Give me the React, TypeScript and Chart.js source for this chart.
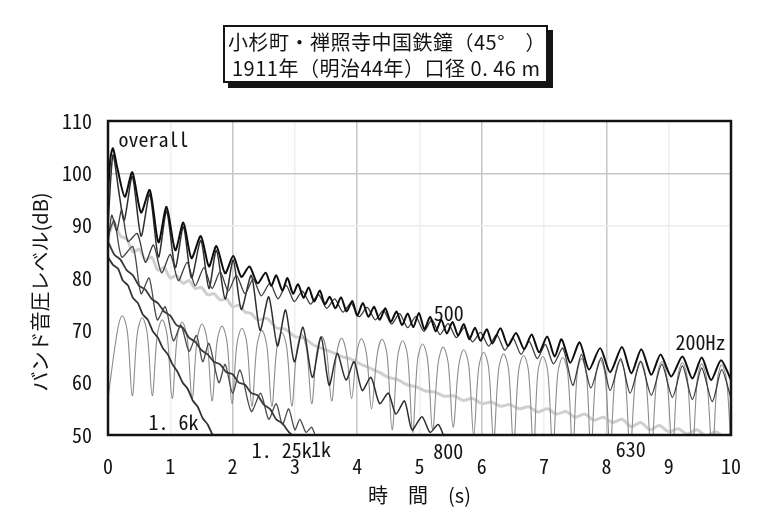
import React, { useEffect, useRef } from 'react';
import { Chart, registerables } from 'chart.js';

Chart.register(...registerables);

// ---------- data (time s, band level dB) ----------
const TITLE_LINE1 = '小杉町・禅照寺中国鉄鐘（45°　）';
const TITLE_LINE2 = '1911年（明治44年）口径 0. 46 m';
const X_TITLE = '時　間　(s)';
const Y_TITLE = 'バンド音圧レベル(dB)';

const X_MIN = 0;
const X_MAX = 10;
const Y_MIN = 50;
const Y_MAX = 110;

const OVERALL: [number, number][] = [
  [0.0, 96], [0.04, 103], [0.08, 104.8], [0.15, 101], [0.27, 95.5], [0.39, 100.2], [0.53, 92.5],
  [0.67, 96.8], [0.81, 86.8], [0.94, 93.6], [1.08, 85.3], [1.21, 90.6], [1.34, 83.8], [1.49, 88],
  [1.62, 82.2], [1.74, 86.1], [1.88, 80.9], [2.01, 84.2], [2.14, 80.2], [2.27, 82.2], [2.4, 79],
  [2.53, 81], [2.62, 78.5], [2.7, 80.5], [2.8, 77.6], [2.88, 80], [2.97, 77], [3.05, 78.8],
  [3.14, 76.2], [3.22, 78.2], [3.31, 75.5], [3.4, 77.6], [3.48, 75], [3.56, 76.4], [3.65, 74.2],
  [3.74, 76.3], [3.83, 73.6], [3.92, 75.6], [4.0, 72.8], [4.09, 75.2], [4.18, 72.6], [4.27, 74.5],
  [4.36, 72], [4.45, 74.2], [4.54, 71.6], [4.63, 73.6], [4.72, 71], [4.81, 73.2], [4.9, 70.6],
  [4.99, 73.3], [5.08, 70.2], [5.17, 72.6], [5.26, 69.8], [5.35, 72], [5.44, 69.4], [5.53, 71.6],
  [5.62, 69], [5.71, 71.2], [5.8, 68.3], [5.89, 70.5], [5.98, 68], [6.08, 70.2], [6.17, 67.5],
  [6.3, 70.4], [6.42, 67], [6.55, 69.5], [6.68, 66.4], [6.8, 69.2], [6.92, 65.8], [7.05, 68.8],
  [7.17, 65], [7.28, 68.3], [7.42, 63.8], [7.57, 67.7], [7.72, 62.5], [7.9, 66.6], [8.06, 62],
  [8.25, 66.8], [8.4, 61.8], [8.56, 66.4], [8.72, 61.5], [8.87, 65.4], [9.04, 61.2], [9.22, 65],
  [9.38, 60.8], [9.53, 64.8], [9.68, 60.5], [9.84, 64.3], [10.0, 60.5],
];

const BAND_500: [number, number][] = [
  [0.0, 86], [0.06, 92], [0.14, 89], [0.22, 93], [0.32, 87], [0.47, 88.5], [0.6, 83], [0.73, 86.3],
  [0.86, 81], [1.0, 84.5], [1.13, 79.5], [1.27, 83], [1.4, 78.5], [1.54, 82], [1.67, 78], [1.8, 81.2],
  [1.93, 77.5], [2.06, 80.5], [2.2, 77], [2.33, 79.8], [2.46, 76.6], [2.6, 79], [2.73, 76], [2.86, 78.6],
  [2.99, 75.5], [3.12, 77.5], [3.25, 75], [3.38, 76.8], [3.51, 74.2], [3.64, 76], [3.77, 73.5],
  [3.9, 75.2], [4.03, 72.6], [4.16, 74.4], [4.29, 72], [4.42, 73.8], [4.55, 71.2], [4.68, 73.2],
  [4.81, 70.5], [4.94, 72.6], [5.07, 69.8], [5.2, 72], [5.33, 69.2], [5.46, 71.3], [5.59, 68.6],
  [5.72, 70.5], [5.85, 67.8], [5.98, 69.6], [6.11, 67], [6.24, 69.2], [6.37, 66.2], [6.5, 68.5],
  [6.63, 65.4], [6.76, 67.9], [6.89, 64.6], [7.02, 67.3], [7.15, 63.6], [7.3, 66.6], [7.46, 59.5],
  [7.6, 65.4], [7.75, 59], [7.92, 64.8], [8.06, 58.5], [8.23, 64.6], [8.38, 58], [8.55, 64],
  [8.72, 57.6], [8.89, 63.5], [9.06, 57.2], [9.22, 63.2], [9.38, 56.8], [9.53, 62.8], [9.7, 56.4],
  [9.85, 62.5], [10.0, 57],
];

const BAND_200: [number, number][] = [
  [0.0, 57], [0.15, 69.8], [0.23, 72.8], [0.31, 69.8], [0.39, 57.5],
  [0.47, 69.4], [0.55, 72.4], [0.63, 69.4], [0.71, 57.5],
  [0.79, 69], [0.87, 72], [0.95, 69], [1.03, 57],
  [1.11, 68.6], [1.19, 71.6], [1.27, 68.6], [1.35, 57],
  [1.43, 68.2], [1.51, 71.2], [1.59, 68.2], [1.67, 56.5],
  [1.75, 67.8], [1.83, 70.8], [1.91, 67.8], [1.99, 56],
  [2.07, 67.4], [2.15, 70.4], [2.23, 67.4], [2.31, 55.5],
  [2.39, 67], [2.47, 70], [2.55, 67], [2.63, 55.5],
  [2.71, 66.6], [2.79, 69.6], [2.87, 66.6], [2.95, 55.5],
  [3.03, 66.2], [3.11, 69.2], [3.19, 66.2], [3.27, 56],
  [3.35, 65.8], [3.43, 68.8], [3.51, 65.8], [3.59, 56.5],
  [3.67, 65.5], [3.75, 68.5], [3.83, 65.5], [3.91, 57],
  [3.99, 65.4], [4.07, 68.4], [4.15, 65.4], [4.23, 55],
  [4.32, 65.3], [4.4, 68.3], [4.48, 65.3], [4.56, 51],
  [4.65, 65], [4.73, 68], [4.81, 65], [4.89, 50.5],
  [4.97, 64.4], [5.05, 67.4], [5.13, 64.4], [5.21, 51],
  [5.3, 63.8], [5.38, 66.8], [5.46, 63.8], [5.54, 51.5],
  [5.63, 63.3], [5.71, 66.3], [5.79, 63.3], [5.87, 50],
  [5.95, 62.8], [6.03, 65.8], [6.11, 62.8], [6.19, 49],
  [6.27, 62.5], [6.35, 65.5], [6.43, 62.5], [6.51, 48],
  [6.59, 62.2], [6.67, 65.2], [6.75, 62.2], [6.83, 47],
  [6.9, 62], [6.98, 65], [7.06, 62], [7.14, 47],
  [7.22, 61.8], [7.3, 64.8], [7.38, 61.8], [7.46, 47],
  [7.53, 61.6], [7.6, 64.6], [7.68, 61.6], [7.75, 47],
  [7.83, 61.4], [7.9, 64.4], [7.98, 61.4], [8.06, 47],
  [8.14, 61.3], [8.22, 64.3], [8.3, 61.3], [8.38, 47],
  [8.47, 61.2], [8.55, 64.2], [8.63, 61.2], [8.72, 47],
  [8.81, 61], [8.89, 64], [8.97, 61], [9.06, 47],
  [9.14, 60.8], [9.22, 63.8], [9.3, 60.8], [9.38, 47],
  [9.46, 60.6], [9.53, 63.6], [9.61, 60.6], [9.7, 47],
  [9.78, 60.4], [9.85, 63.4], [9.93, 60.4], [10.0, 47],
];

const BAND_630: [number, number][] = [
  [0, 88], [0.1, 90.5], [0.2, 88], [0.3, 87.5], [0.4, 85], [0.5, 85.5], [0.6, 83.5], [0.7, 84],
  [0.8, 81.5], [0.9, 82], [1.0, 80], [1.1, 80.5], [1.2, 79], [1.3, 79.5], [1.4, 78], [1.5, 78.2],
  [1.6, 76.8], [1.7, 77], [1.8, 75.8], [1.9, 76], [2.0, 74.5], [2.1, 74.8], [2.2, 73.5], [2.3, 73.2],
  [2.4, 72], [2.55, 72.3], [2.7, 70.5], [2.85, 70.2], [3.0, 68.8], [3.15, 68.5], [3.3, 67.2],
  [3.45, 66.5], [3.6, 65.8], [3.75, 65], [3.9, 64.5], [4.05, 63.6], [4.2, 62.8], [4.35, 62],
  [4.5, 61], [4.65, 60.6], [4.8, 59.6], [4.95, 59.2], [5.1, 58.4], [5.25, 58.2], [5.4, 57.4],
  [5.55, 57.5], [5.7, 56.6], [5.85, 57], [6.0, 56], [6.15, 56.3], [6.3, 55.5], [6.45, 55.8],
  [6.6, 55], [6.75, 55.4], [6.9, 54.4], [7.05, 55], [7.2, 54], [7.35, 54.5], [7.5, 53.4],
  [7.65, 54], [7.8, 52.8], [7.95, 53.4], [8.1, 52.4], [8.25, 53], [8.4, 51.6], [8.55, 52.4],
  [8.7, 51], [8.85, 51.8], [9.0, 50.6], [9.15, 51.2], [9.3, 50.2], [9.45, 51], [9.6, 49.8],
  [9.75, 50.6], [9.9, 49.6], [10, 50.2],
];

const BAND_800: [number, number][] = [
  [0, 90], [0.08, 103.5], [0.18, 96], [0.26, 91], [0.39, 99.4], [0.53, 88], [0.67, 96], [0.81, 84],
  [0.94, 92.8], [1.08, 82], [1.21, 89.8], [1.34, 80], [1.49, 87.2], [1.62, 78], [1.74, 85.3],
  [1.88, 76], [2.01, 83.4], [2.14, 74], [2.3, 80.5], [2.44, 70], [2.58, 76.4], [2.72, 67],
  [2.85, 73.9], [2.99, 64], [3.13, 70.6], [3.28, 61], [3.42, 68.7], [3.55, 59.5], [3.68, 65.6],
  [3.82, 60.5], [3.95, 64], [4.08, 58.5], [4.22, 61], [4.36, 56], [4.5, 58], [4.62, 54],
  [4.76, 56.5], [4.88, 51], [5.04, 53.5], [5.17, 50.5], [5.3, 52], [5.4, 49.5],
];

const BAND_1K: [number, number][] = [
  [0, 88], [0.1, 91], [0.22, 84], [0.4, 86], [0.53, 77], [0.66, 80], [0.79, 72], [0.92, 74.5],
  [1.05, 68], [1.17, 71], [1.3, 66], [1.42, 69], [1.52, 64], [1.62, 67.5], [1.78, 60], [1.88, 63.5],
  [2.0, 58], [2.12, 62.4], [2.3, 54.5], [2.45, 58], [2.58, 53], [2.7, 56], [2.8, 52], [2.9, 55],
  [3.0, 51], [3.08, 53], [3.18, 50.5], [3.27, 51.5], [3.35, 49],
];

const BAND_1250: [number, number][] = [
  [0, 87], [0.1, 84.5], [0.2, 83.5], [0.3, 81.5], [0.4, 80.5], [0.5, 78.5], [0.6, 77.8], [0.7, 76],
  [0.8, 75.2], [0.9, 73.6], [1.0, 72.8], [1.1, 71], [1.2, 70.5], [1.3, 68.6], [1.4, 67.8], [1.5, 66.2],
  [1.6, 65.4], [1.7, 64], [1.8, 63.5], [1.9, 62], [2.0, 61.6], [2.1, 60], [2.2, 59.6], [2.3, 58],
  [2.4, 57.6], [2.5, 55.8], [2.6, 55], [2.7, 53], [2.8, 52.2], [2.9, 50.6], [3.0, 49.5],
];

const BAND_1600: [number, number][] = [
  [0, 84], [0.08, 82.5], [0.16, 81.8], [0.24, 79.5], [0.32, 78.6], [0.4, 76.2], [0.48, 75.2],
  [0.56, 73], [0.64, 72], [0.72, 69.8], [0.8, 68.6], [0.88, 66.6], [0.96, 65.4], [1.04, 63.4],
  [1.12, 62], [1.2, 60], [1.28, 58.8], [1.36, 56.6], [1.44, 55.4], [1.52, 53.2], [1.6, 52],
  [1.68, 50], [1.76, 49],
];

// curve labels: [text, time, level]
const CURVE_LABELS: [string, number, number][] = [
  ['overall', 0.73, 106.4],
  ['500', 5.47, 73.3],
  ['200Hz', 9.51, 67.7],
  ['1. 6k', 1.05, 52.5],
  ['1. 25k', 2.79, 47.1],
  ['1k', 3.42, 47.3],
  ['800', 5.46, 46.9],
  ['630', 8.39, 47.3],
];

// ---------- styling ----------
const NUM_FONT = '"Noto Sans Mono CJK JP", "Liberation Sans Narrow", sans-serif';
const JP_FONT = '"Noto Sans CJK JP", sans-serif';
const INK = '#141414';

const toXY = (arr: [number, number][]) => arr.map(([x, y]) => ({ x, y }));

export default function App() {
  const ref = useRef<HTMLCanvasElement | null>(null);

  useEffect(() => {
    document.body.style.margin = '0';
    const canvas = ref.current;
    if (!canvas) return;

    const decor = {
      id: 'decor',
      afterDraw(chart: any) {
        const { ctx, chartArea: a, scales } = chart;
        const xs = scales.x;
        const ys = scales.y;
        ctx.save();
        ctx.strokeStyle = INK;
        ctx.lineWidth = 2.5;
        ctx.strokeRect(a.left, a.top, a.right - a.left, a.bottom - a.top);
        ctx.fillStyle = INK;
        ctx.font = `20px ${NUM_FONT}`;
        ctx.textAlign = 'center';
        ctx.textBaseline = 'middle';
        for (const [text, t, v] of CURVE_LABELS) {
          ctx.fillText(text, xs.getPixelForValue(t), ys.getPixelForValue(v));
        }
        ctx.font = `20px ${JP_FONT}`;
        ctx.fillText(X_TITLE, (a.left + a.right) / 2, a.bottom + 60);
        ctx.translate(a.left - 68, (a.top + a.bottom) / 2 + 14);
        ctx.rotate(-Math.PI / 2);
        ctx.fillText(Y_TITLE, 0, 0);
        ctx.restore();
      },
    };

    const line = (data: [number, number][], color: string, width: number, tension: number) => ({
      data: toXY(data),
      borderColor: color,
      borderWidth: width,
      pointRadius: 0,
      tension,
      fill: false,
    });

    const chart = new Chart(canvas, {
      type: 'line',
      data: {
        datasets: [
          { label: 'overall', ...line(OVERALL, '#0d0d0d', 2, 0.25) },
          { label: '500', ...line(BAND_500, '#3c3c3c', 1.3, 0.25) },
          { label: '800', ...line(BAND_800, '#2e2e2e', 1.5, 0.25) },
          { label: '1.6k', ...line(BAND_1600, '#333333', 1.8, 0.2) },
          { label: '1.25k', ...line(BAND_1250, '#3a3a3a', 1.8, 0.2) },
          { label: '1k', ...line(BAND_1K, '#4a4a4a', 1.3, 0.25) },
          { label: '200Hz', ...line(BAND_200, '#8c8c8c', 1.1, 0.35) },
          { label: '630', ...line(BAND_630, '#cfcfcf', 3, 0.3) },
        ],
      },
      options: {
        animation: false,
        responsive: false,
        maintainAspectRatio: false,
        events: [],
        layout: { padding: { top: 121, right: 13, left: 0, bottom: 0 } },
        plugins: { legend: { display: false }, tooltip: { enabled: false }, title: { display: false } },
        scales: {
          x: {
            type: 'linear',
            min: X_MIN,
            max: X_MAX,
            afterFit: (s: any) => { s.height = 88; },
            border: { display: false },
            grid: {
              drawTicks: false,
              lineWidth: 1.5,
              color: (c: any) => {
                const v = c.tick ? c.tick.value : 0;
                if (v === X_MIN || v === X_MAX) return 'rgba(0,0,0,0)';
                return v % 2 === 0 ? '#c6c6c6' : '#efefef';
              },
            },
            ticks: {
              stepSize: 1,
              autoSkip: false,
              maxRotation: 0,
              padding: 19,
              color: INK,
              font: { family: NUM_FONT, size: 20 },
            },
          },
          y: {
            min: Y_MIN,
            max: Y_MAX,
            afterFit: (s: any) => { s.width = 108; },
            border: { display: false },
            grid: {
              drawTicks: false,
              lineWidth: 1.5,
              color: (c: any) => {
                const v = c.tick ? c.tick.value : 0;
                if (v === 100) return '#c6c6c6';
                if (v === 90) return '#ececec';
                return 'rgba(0,0,0,0)';
              },
            },
            ticks: {
              stepSize: 10,
              padding: 16,
              color: INK,
              font: { family: NUM_FONT, size: 20 },
            },
          },
        },
      },
      plugins: [decor],
    } as any);

    const fonts = (document as any).fonts;
    if (fonts && fonts.load) {
      Promise.all([
        fonts.load(`20px ${NUM_FONT}`, '0123'),
        fonts.load(`20px ${JP_FONT}`, '時間'),
      ]).then(() => chart.update()).catch(() => {});
    }
    return () => chart.destroy();
  }, []);

  return (
    <div style={{ position: 'relative', width: 760, height: 523, background: '#fff', overflow: 'hidden' }}>
      <canvas ref={ref} width={760} height={523} style={{ position: 'absolute', left: 0, top: 0, width: 760, height: 523 }} />
      <div
        style={{
          position: 'absolute',
          left: 223,
          top: 25,
          width: 325,
          height: 58,
          boxSizing: 'border-box',
          border: `2px solid ${INK}`,
          boxShadow: `5px 5px 0 ${INK}`,
          background: '#fff',
          color: INK,
          fontFamily: JP_FONT,
          fontSize: 20,
          lineHeight: '26px',
          letterSpacing: '0.5px',
          paddingLeft: 3,
          paddingTop: 2,
          whiteSpace: 'nowrap',
        }}
      >
        <div>{TITLE_LINE1}</div>
        <div style={{ paddingLeft: 4 }}>{TITLE_LINE2}</div>
      </div>
    </div>
  );
}
